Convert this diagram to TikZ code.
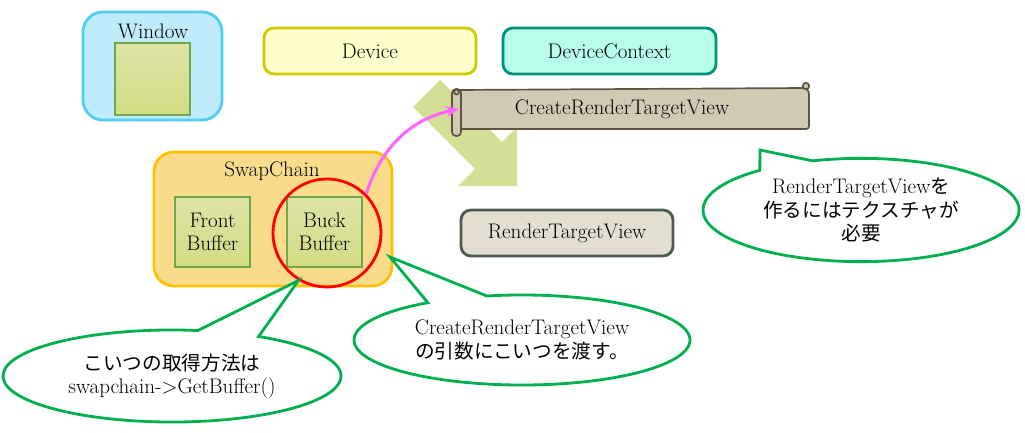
\documentclass[tikz,border=0pt]{standalone}
\usepackage{fontspec}
\newfontfamily\jp[Scale=0.93]{Noto Sans CJK JP}
\usetikzlibrary{shapes.callouts,arrows.meta}
\definecolor{winfill}{HTML}{BFEBFA}
\definecolor{winline}{HTML}{4FCDF5}
\definecolor{buftop}{HTML}{DDE4A6}
\definecolor{bufbot}{HTML}{D1DC84}
\definecolor{bufline}{HTML}{6FA64E}
\definecolor{devfill}{HTML}{FFFFCC}
\definecolor{devline}{HTML}{CFCA00}
\definecolor{ctxfill}{HTML}{B8FDEA}
\definecolor{ctxline}{HTML}{00927A}
\definecolor{scrollfill}{HTML}{D2C9B3}
\definecolor{scrolline}{HTML}{5C5343}
\definecolor{swapfill}{HTML}{F8DC8C}
\definecolor{swapline}{HTML}{FFC000}
\definecolor{rtvfill}{HTML}{E4DED2}
\definecolor{rtvline}{HTML}{4B5D50}
\definecolor{fatarrow}{HTML}{D5DE95}
\definecolor{pinkline}{HTML}{FF66FF}
\definecolor{balloongreen}{HTML}{00B050}
\tikzset{
	txt/.style={font=\fontsize{15}{16.5}\selectfont},
	box/.style={txt, draw, line width=2pt, rounded corners=0.25cm, minimum width=5.3cm, minimum height=1.15cm},
	buffer/.style={txt, draw=bufline, line width=1.3pt, top color=buftop, bottom color=bufbot, minimum width=1.875cm, minimum height=1.75cm, align=center},
	balloon/.style={txt, ellipse callout, draw=balloongreen, fill=white, line width=2pt, callout pointer arc=22, align=center},
	scroll/.style={draw=scrolline, fill=scrollfill, line width=1.2pt},
}
\begin{document}
\begin{tikzpicture}[x=0.025cm, y=-0.025cm]
	\useasboundingbox (0,0) rectangle (1025,433);
	% window
	\node[box, draw=winline, fill=winfill, rounded corners=0.5cm, minimum width=3.475cm, minimum height=2.7cm] (window) at (152.5,66) {};
	\node[txt] (wintitle) at (153,31) {Window};
	\node[buffer, minimum height=1.8cm] (winbuf) at (152.5,79) {};
	% device and context
	\node[box, draw=devline, fill=devfill] (device) at (370,51) {Device};
	\node[box, draw=ctxline, fill=ctxfill, minimum width=5.325cm] (context) at (609.5,51) {DeviceContext};
	% fat arrow
	\fill[fatarrow] (440,80) -- (502,142) -- (517,127) -- (517,186) -- (458,186) -- (475,169) -- (413,107) -- cycle;
	% scroll
	\draw[scroll, rounded corners=2pt] (457,90) -- (805,88) -- (809,91) -- (809,129) -- (457,129) -- cycle;
	\draw[scroll] (806,86) circle (0.08cm);
	\draw[scroll, rounded corners=0.1cm] (452,89) rectangle (461,136);
	\draw[scroll] (456.5,92) circle (0.06cm);
	\node[txt, minimum width=8.15cm, minimum height=1cm] (create) at (622,109) {CreateRenderTargetView};
	% swap chain
	\node[box, draw=swapline, fill=swapfill, rounded corners=0.5cm, minimum width=5.95cm, minimum height=3.35cm] (swapchain) at (273,219) {};
	\node[txt] (swaptitle) at (272,171) {SwapChain};
	\node[buffer] (front) at (212.5,232) {Front\\Buffer};
	\node[buffer] (buck) at (324.5,232) {Buck\\Buffer};
	\node[circle, draw=red, line width=2pt, minimum size=2.7cm] (bbcircle) at (327,233) {};
	\node[box, draw=rtvline, fill=rtvfill] (rtv) at (567,233) {RenderTargetView};
	% pink arrow
	\draw[pinkline, line width=2.2pt, -{Stealth[length=9pt, width=8pt]}] (bbcircle.45) to[out=72, in=192] (create.west);
	% balloons
	\node[balloon, minimum width=8.45cm, minimum height=2.3cm, callout absolute pointer={(bbcircle.239)}] (getbuf) at (172,376) {{\jp こいつの取得方法は}\\swapchain->GetBuffer()};
	\node[balloon, minimum width=8.4cm, minimum height=2.25cm, callout absolute pointer={(390,257)}] (pass) at (522,340) {CreateRenderTargetView\\{\jp の引数にこいつを渡す。}};
	\node[balloon, minimum width=7.9cm, minimum height=2.35cm, callout absolute pointer={(760,150)}] (needtex) at (861,210) {RenderTargetView{\jp を}\\{\jp 作るにはテクスチャが}\\{\jp 必要}};
\end{tikzpicture}
\end{document}
